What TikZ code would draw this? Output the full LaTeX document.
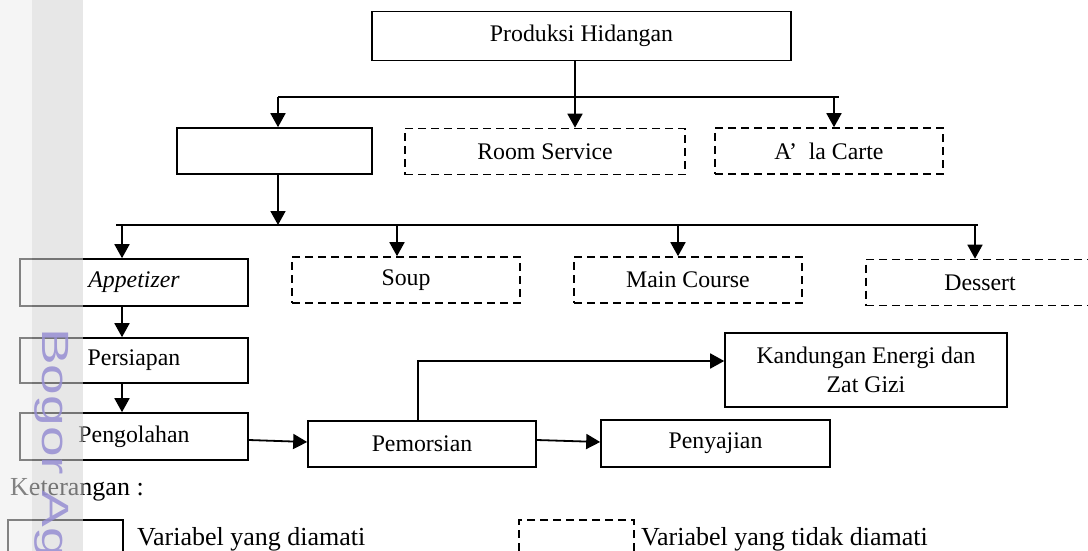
\documentclass[tikz,border=0pt]{standalone}
\usepackage{fontspec}
\setmainfont{Liberation Serif}
\newfontfamily\wmfont{Liberation Sans}
\usetikzlibrary{arrows.meta}

\definecolor{stripA}{gray}{0.93}
\definecolor{stripB}{gray}{0.83}
\definecolor{wmpurple}{RGB}{150,142,210}

\tikzset{
  box/.style={draw, line width=1.6pt, minimum height=46pt, inner sep=0pt, align=center,
    font=\fontsize{23.8}{29}\selectfont},
  dbox/.style={box, dash pattern=on 8pt off 5pt},
  conn/.style={line width=1.8pt},
  lbl/.style={inner sep=0pt, font=\fontsize{26}{30}\selectfont},
  >={Triangle[length=14pt,width=15pt]}
}

\begin{document}
\begin{tikzpicture}[x=1pt, y=-1pt]
  \useasboundingbox (0,0) rectangle (1088,551);

  \node[box, minimum width=419pt, minimum height=49pt] (prod) at (581.5,36) {Produksi Hidangan};
  \node[box, minimum width=195pt] (menu) at (274.5,151) {};
  \node[dbox, minimum width=280pt] (room) at (545,151.5) {Room Service};
  \node[dbox, minimum width=228pt] (carte) at (829,151) {A’\ \ la Carte};

  \node[box, minimum width=228pt, minimum height=47pt] (appetizer) at (134,282.5) {\textit{Appetizer}};
  \node[dbox, minimum width=228pt] (soup) at (406,280) {Soup};
  \node[dbox, minimum width=228pt] (main) at (688,280) {Main Course};
  \node[dbox, minimum width=228pt] (dessert) at (980,282.5) {Dessert};

  \node[box, minimum width=228pt, minimum height=45pt] (persiapan) at (134,360.5) {Persiapan};
  \node[box, minimum width=228pt, minimum height=47pt] (pengolahan) at (134,436.5) {Pengolahan};
  \node[box, minimum width=228pt] (pemorsian) at (422,444) {Pemorsian};
  \node[box, minimum width=229pt, minimum height=47pt] (penyajian) at (715.5,443.5) {Penyajian};
  \node[box, minimum width=282pt, minimum height=74pt] (kandungan) at (866,370) {Kandungan Energi dan\\Zat Gizi};

  \coordinate (b1a) at (278,97);
  \coordinate (b1b) at (575,97);
  \coordinate (b1c) at (834,97);
  \coordinate (b1e) at (839,97);
  \coordinate (b2s) at (116,225);
  \coordinate (b2a) at (122,225);
  \coordinate (b2m) at (278,225);
  \coordinate (b2b) at (397,225);
  \coordinate (b2c) at (678,225);
  \coordinate (b2d) at (975,225);
  \coordinate (b2e) at (978,225);

  \draw[conn] (b1a) -- (b1e);
  \draw[conn] (b2s) -- (b2e);
  \path[conn,->]
  (prod.south -| b1b) edge (b1b |- room.north)
  (b1a) edge (b1a |- menu.north)
  (b1c) edge (b1c |- carte.north)
  (b2m |- menu.south) edge (b2m)
  (b2a) edge (b2a |- appetizer.north)
  (b2b) edge (b2b |- soup.north)
  (b2c) edge (b2c |- main.north)
  (b2d) edge (b2d |- dessert.north)
  (b2a |- appetizer.south) edge (b2a |- persiapan.north)
  (b2a |- persiapan.south) edge (b2a |- pengolahan.north)
  ([yshift=-3.5pt]pengolahan.east) edge ([yshift=2pt]pemorsian.west)
  ([yshift=4pt]pemorsian.east) edge ([yshift=1.5pt]penyajian.west)
  ;
  \draw[conn,->] ([xshift=-4pt]pemorsian.north) |- ([yshift=9pt]kandungan.west);

  \node[lbl, anchor=base west] (ket) at (10,495) {Keterangan :};
  \node[box, minimum width=115pt] (legobs) at (65.5,543) {};
  \node[dbox, minimum width=115pt] (legnon) at (576.5,543) {};
  \node[lbl, anchor=base west] (legobstxt) at (137,545) {Variabel yang diamati};
  \node[lbl, anchor=base west] (legnontxt) at (641,545) {Variabel yang tidak diamati};

  \fill[stripA, fill opacity=0.55] (0,0) rectangle (31.6,551);
  \fill[stripB, fill opacity=0.55] (31.6,0) rectangle (83,551);
  \node[rotate=-90, anchor=west, inner sep=0pt, text=wmpurple, text opacity=0.85,
    font=\wmfont\fontsize{38}{38}\selectfont] (wm) at (52,328) {\scalebox{1.45}[1]{Bogor Ag}};
\end{tikzpicture}
\end{document}
